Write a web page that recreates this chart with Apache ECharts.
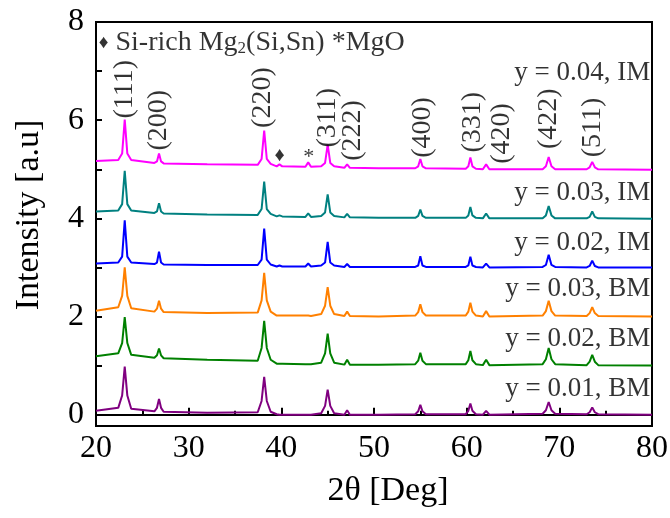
<!DOCTYPE html>
<html>
<head>
<meta charset="utf-8">
<script src="https://cdn.jsdelivr.net/npm/echarts@6/dist/echarts.min.js"></script>
<style>
  html, body { margin: 0; padding: 0; background: #fff; }
  #main { width: 670px; height: 518px; }
</style>
</head>
<body>
<div id="main"></div>
<script>
// 2θ sample positions shared by all six patterns
const twoTheta = [20.0,
  22.4, 22.82, 23.1, 23.38, 23.8,
  26.3, 26.58, 26.8, 27.02, 27.3,
  32.0,
  37.45, 37.87, 38.15, 38.43, 38.85,
  39.5, 39.8, 40.1,
  42.6, 42.9, 43.2,
  44.3, 44.72, 45.0, 45.28, 45.7,
  46.8, 47.1, 47.4,
  50.5,
  54.45, 54.77, 55.0, 55.23, 55.6,
  59.9, 60.18, 60.4, 60.62, 61.0,
  61.75, 62.1, 62.45,
  68.2, 68.55, 68.85, 69.15, 69.55,
  72.95, 73.27, 73.55, 73.83, 74.2,
  80.0];

// stacked intensities (offset already included), one value per twoTheta
const im004 = [5.17,
  5.19, 5.32, 6.01, 5.32, 5.19,
  5.13, 5.16, 5.32, 5.16, 5.12,
  5.1,
  5.09, 5.21, 5.79, 5.21, 5.11,
  5.06, 5.1, 5.06,
  5.05, 5.14, 5.05,
  5.06, 5.13, 5.5, 5.13, 5.06,
  5.03, 5.1, 5.03,
  5.02,
  5.02, 5.06, 5.21, 5.06, 5.02,
  5.01, 5.06, 5.24, 5.06, 5.01,
  5.0, 5.1, 5.0,
  5.0, 5.06, 5.25, 5.06, 5.0,
  5.0, 5.04, 5.15, 5.04, 5.0,
  4.99];
const im003 = [4.14,
  4.16, 4.29, 4.97, 4.29, 4.16,
  4.11, 4.14, 4.31, 4.14, 4.1,
  4.08,
  4.07, 4.19, 4.75, 4.19, 4.09,
  4.04, 4.06, 4.04,
  4.03, 4.1, 4.03,
  4.05, 4.12, 4.49, 4.12, 4.05,
  4.02, 4.09, 4.02,
  4.01,
  4.01, 4.05, 4.18, 4.05, 4.01,
  4.01, 4.06, 4.23, 4.06, 4.01,
  4.0, 4.1, 4.0,
  4.0, 4.06, 4.25, 4.06, 4.0,
  4.0, 4.03, 4.14, 4.03, 4.0,
  3.99];
const im002 = [3.08,
  3.1, 3.22, 3.96, 3.22, 3.1,
  3.07, 3.1, 3.32, 3.1, 3.06,
  3.05,
  3.05, 3.16, 3.79, 3.16, 3.06,
  3.02, 3.04, 3.02,
  3.02, 3.08, 3.02,
  3.04, 3.1, 3.52, 3.1, 3.04,
  3.01, 3.07, 3.01,
  3.01,
  3.01, 3.04, 3.23, 3.04, 3.01,
  3.01, 3.04, 3.22, 3.04, 3.01,
  3.0, 3.08, 3.0,
  3.01, 3.05, 3.26, 3.05, 3.01,
  3.0, 3.03, 3.14, 3.03, 3.0,
  3.0];
const bm003 = [2.12,
  2.19, 2.42, 3.0, 2.42, 2.17,
  2.1, 2.16, 2.32, 2.16, 2.09,
  2.07,
  2.08, 2.33, 2.89, 2.33, 2.1,
  2.02, 2.02, 2.02,
  2.02, 2.02, 2.01,
  2.05, 2.22, 2.6, 2.22, 2.05,
  2.01, 2.1, 2.01,
  2.0,
  2.02, 2.09, 2.25, 2.09, 2.02,
  2.02, 2.1, 2.28, 2.1, 2.02,
  2.0, 2.11, 2.0,
  2.02, 2.11, 2.32, 2.11, 2.02,
  2.01, 2.07, 2.19, 2.07, 2.01,
  2.0];
const bm002 = [1.19,
  1.25, 1.46, 1.99, 1.46, 1.22,
  1.16, 1.21, 1.35, 1.21, 1.15,
  1.12,
  1.1, 1.36, 1.91, 1.36, 1.12,
  1.04, 1.04, 1.04,
  1.03, 1.03, 1.03,
  1.06, 1.25, 1.65, 1.25, 1.06,
  1.02, 1.12, 1.02,
  1.02,
  1.03, 1.1, 1.26, 1.1, 1.03,
  1.03, 1.11, 1.3, 1.11, 1.03,
  1.01, 1.12, 1.01,
  1.03, 1.13, 1.36, 1.13, 1.03,
  1.01, 1.08, 1.22, 1.08, 1.01,
  1.0];
const bm001 = [0.08,
  0.14, 0.39, 0.98, 0.39, 0.12,
  0.07, 0.14, 0.32, 0.14, 0.06,
  0.04,
  0.05, 0.28, 0.77, 0.28, 0.06,
  0.01, 0.0, 0.0,
  0.0, 0.0, 0.0,
  0.03, 0.18, 0.51, 0.18, 0.03,
  0.0, 0.09, 0.0,
  0.0,
  0.01, 0.07, 0.2, 0.07, 0.01,
  0.01, 0.08, 0.23, 0.08, 0.01,
  0.0, 0.08, 0.0,
  0.02, 0.09, 0.26, 0.09, 0.02,
  0.01, 0.05, 0.15, 0.05, 0.01,
  0.0];

const seriesNames = ['y = 0.04, IM', 'y = 0.03, IM', 'y = 0.02, IM', 'y = 0.03, BM', 'y = 0.02, BM', 'y = 0.01, BM'];
const seriesData = [im004, im003, im002, bm003, bm002, bm001];
const seriesColors = ['#ff00ff', '#008080', '#0000ff', '#ff8000', '#008000', '#800080'];
// where each pattern's name sits (data space, right aligned)
const nameY = [6.97, 4.52, 3.5, 2.57, 1.55, 0.53];

const hklNames = ['(111)', '(200)', '(220)', '(311)', '(222)', '(400)', '(331)', '(420)', '(422)', '(511)'];
const hklX = [23.1, 26.8, 38.0, 45.0, 47.7, 55.3, 60.6, 63.8, 68.8, 73.6];
const hklY = [6.63, 6.0, 6.46, 6.05, 5.79, 5.85, 5.96, 5.73, 6.03, 5.85];

const yTicks = [0, 1, 2, 3, 4, 5, 6, 7, 8];
const yLabels = [0, 2, 4, 6, 8];

const FONT = 'Liberation Serif';
const chart = echarts.init(document.getElementById('main'));

const lineSeries = seriesData.map((vals, i) => ({
  name: seriesNames[i],
  type: 'line',
  showSymbol: false,
  symbol: 'none',
  silent: true,
  lineStyle: { color: seriesColors[i], width: 2 },
  data: vals.map((v, j) => [twoTheta[j], v]),
  z: 3
}));

const textStyle = { color: '#000', fontFamily: FONT };

const option = {
  animation: false,
  backgroundColor: '#fff',
  grid: {
    left: 96, right: 18, top: 22, bottom: 92,
    show: true, borderColor: '#000', borderWidth: 2,
    outerBoundsMode: 'none'
  },
  xAxis: {
    type: 'value', min: 20, max: 80, interval: 10,
    name: '2θ [Deg]', nameLocation: 'middle', nameGap: 48,
    nameTextStyle: { ...textStyle, fontSize: 34, padding: [0, 0, 0, 28] },
    axisLine: { show: true, lineStyle: { color: '#000', width: 2 } },
    axisTick: { show: true, inside: true, length: 7, lineStyle: { color: '#000', width: 2 } },
    minorTick: { show: true, splitNumber: 2, length: 4, lineStyle: { color: '#000', width: 2 } },
    axisLabel: { ...textStyle, fontSize: 32, margin: 7 },
    splitLine: { show: false }
  },
  yAxis: {
    type: 'value', min: -0.23, max: 8,
    name: 'Intensity [a.u]', nameLocation: 'middle', nameGap: 50,
    nameTextStyle: { ...textStyle, fontSize: 34, padding: [0, 0, 0, 18] },
    axisLine: { show: true, lineStyle: { color: '#000', width: 2 } },
    axisTick: { show: true, inside: true, length: 6, customValues: yTicks, lineStyle: { color: '#000', width: 2 } },
    axisLabel: { ...textStyle, fontSize: 32, margin: 12, customValues: yLabels },
    splitLine: { show: false }
  },
  series: [
    ...lineSeries,
    {
      // sample names
      type: 'scatter', symbolSize: 0, silent: true, z: 5,
      data: seriesNames.map((n, i) => ({ name: n, value: [79.8, nameY[i]] })),
      label: {
        show: true, position: 'inside', formatter: '{b}',
        align: 'right', verticalAlign: 'middle',
        ...textStyle, fontSize: 27
      }
    },
    {
      // Miller indices
      type: 'scatter', symbolSize: 0, silent: true, z: 5,
      data: hklNames.map((n, i) => ({ name: n, value: [hklX[i], hklY[i]] })),
      label: {
        show: true, position: 'inside', formatter: '{b}', rotate: 90,
        align: 'center', verticalAlign: 'middle',
        ...textStyle, fontSize: 28
      }
    },
    {
      // phase markers and key
      type: 'scatter', symbolSize: 0, silent: true, z: 5,
      data: [
        { name: '♦', value: [39.8, 5.28], label: { fontSize: 20 } },
        { name: '*', value: [42.95, 5.25], label: { fontSize: 22 } },
        { name: 'key', value: [20.3, 7.57],
          label: {
            align: 'left',
            formatter: '{d|♦} Si-rich Mg{s|2}(Si,Sn) *MgO',
            rich: {
              d: { fontFamily: FONT, fontSize: 19, color: '#000' },
              s: { fontFamily: FONT, fontSize: 17, color: '#000', verticalAlign: 'bottom', padding: [11, 0, 0, 0] }
            }
          } }
      ],
      label: {
        show: true, position: 'inside', formatter: '{b}',
        align: 'center', verticalAlign: 'middle',
        ...textStyle, fontSize: 28
      }
    }
  ]
};

chart.setOption(option);
</script>
</body>
</html>
